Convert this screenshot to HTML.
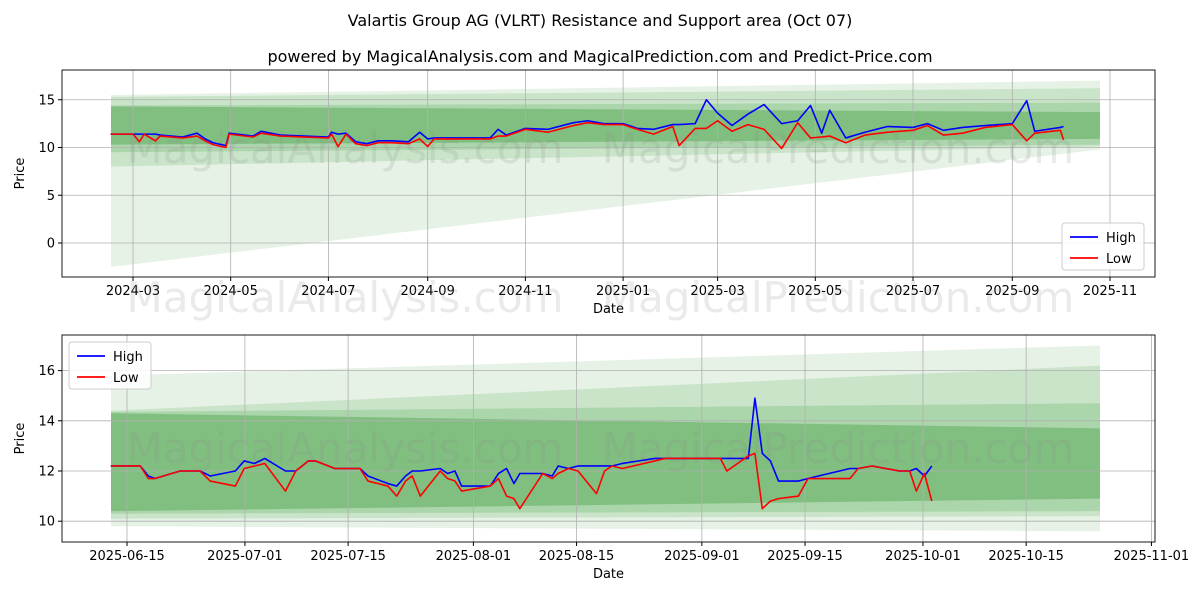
<!DOCTYPE html>
<html><head><meta charset="utf-8"><style>
body{margin:0;background:#fff;font-family:"Liberation Sans","DejaVu Sans",sans-serif}
svg text{font-family:"DejaVu Sans","Liberation Sans",sans-serif}
</style></head><body>
<svg id="c" width="1200" height="600" viewBox="0 0 1200 600"></svg>
<script>
// ---- top chart data ----
const topDates=["2024-02-16","2024-03-01","2024-03-05","2024-03-08","2024-03-15","2024-03-18","2024-04-01","2024-04-10","2024-04-15","2024-04-20","2024-04-28","2024-04-30","2024-05-15","2024-05-20","2024-06-01","2024-07-01","2024-07-03","2024-07-07","2024-07-12","2024-07-18","2024-07-25","2024-08-01","2024-08-10","2024-08-20","2024-08-27","2024-09-01","2024-09-05","2024-10-01","2024-10-10","2024-10-15","2024-10-20","2024-11-01","2024-11-15","2024-12-01","2024-12-10","2024-12-20","2025-01-01","2025-01-10","2025-01-20","2025-02-01","2025-02-05","2025-02-15","2025-02-22","2025-03-01","2025-03-10","2025-03-20","2025-03-30","2025-04-10","2025-04-20","2025-04-28","2025-05-05","2025-05-10","2025-05-20","2025-06-01","2025-06-15","2025-07-01","2025-07-10","2025-07-20","2025-08-01","2025-08-15","2025-09-01","2025-09-10","2025-09-15","2025-10-01","2025-10-03"];
const topHigh=[11.4,11.4,11.4,11.4,11.4,11.3,11.1,11.5,10.9,10.5,10.2,11.5,11.2,11.7,11.3,11.1,11.6,11.4,11.5,10.6,10.4,10.7,10.7,10.6,11.6,10.9,11.0,11.0,11.0,11.9,11.3,12.0,11.9,12.6,12.8,12.5,12.5,12.0,11.9,12.4,12.4,12.5,15.0,13.6,12.3,13.5,14.5,12.5,12.8,14.4,11.5,13.9,11.0,11.6,12.2,12.1,12.5,11.8,12.1,12.3,12.5,14.9,11.7,12.1,12.2];
const topLow=[11.4,11.4,10.6,11.4,10.7,11.2,11.0,11.2,10.7,10.3,10.0,11.4,11.1,11.5,11.2,11.0,11.4,10.1,11.4,10.4,10.2,10.5,10.5,10.4,10.9,10.1,10.9,10.9,10.9,11.2,11.2,11.9,11.6,12.3,12.6,12.4,12.4,11.9,11.4,12.2,10.2,12.0,12.0,12.8,11.7,12.4,11.9,9.9,12.6,11.0,11.1,11.2,10.5,11.3,11.6,11.8,12.3,11.3,11.5,12.1,12.4,10.7,11.5,11.8,10.8];
// ---- bottom chart data (days after 2025-06-15) ----
const botDays=[-2.2,1.8,2.9,3.8,7.2,9.9,11.3,14.7,15.9,17.3,18.7,21.5,22.9,24.6,25.6,28.2,31.6,32.7,35.4,36.6,37.8,38.7,39.8,42.5,43.5,44.5,45.4,49.3,50.4,51.5,52.5,53.3,56.4,57.7,58.5,59.9,61.2,63.7,64.8,65.8,67.2,71.6,73.0,80.5,81.4,84.3,85.2,86.2,87.3,88.4,91.1,92.4,98.1,99.2,101.1,104.8,106.2,107.1,108.2,109.2];
const botHigh=[12.2,12.2,11.8,11.7,12.0,12.0,11.8,12.0,12.4,12.3,12.5,12.0,12.0,12.4,12.4,12.1,12.1,11.8,11.5,11.4,11.8,12.0,12.0,12.1,11.9,12.0,11.4,11.4,11.9,12.1,11.5,11.9,11.9,11.8,12.2,12.1,12.2,12.2,12.2,12.2,12.3,12.5,12.5,12.5,12.5,12.5,14.9,12.7,12.4,11.6,11.6,11.7,12.1,12.1,12.2,12.0,12.0,12.1,11.8,12.2];
const botLow=[12.2,12.2,11.7,11.7,12.0,12.0,11.6,11.4,12.1,12.2,12.3,11.2,12.0,12.4,12.4,12.1,12.1,11.6,11.4,11.0,11.6,11.8,11.0,12.0,11.7,11.6,11.2,11.4,11.7,11.0,10.9,10.5,11.9,11.7,11.9,12.1,12.0,11.1,12.0,12.2,12.1,12.4,12.5,12.5,12.0,12.6,12.7,10.5,10.8,10.9,11.0,11.7,11.7,12.1,12.2,12.0,12.0,11.2,11.9,10.8];
// band layers: [topStart, topEnd, botStart, botEnd, opacity]
const topBands=[[15.5,17.0,-2.5,9.8,0.10],[15.3,16.2,8.0,10.1,0.12],[14.4,14.7,9.5,10.3,0.15],[14.3,13.7,10.3,10.9,0.25]];
const botBands=[[15.8,17.0,9.8,9.6,0.10],[14.4,16.2,10.1,10.2,0.12],[14.35,14.7,10.3,10.4,0.15],[14.3,13.7,10.4,10.9,0.25]];
const topYTicks=[0,5,10,15];
const botYTicks=[10,12,14,16];
const topXTicks=["2024-03","2024-05","2024-07","2024-09","2024-11","2025-01","2025-03","2025-05","2025-07","2025-09","2025-11"];
const botXTicks=["2025-06-15","2025-07-01","2025-07-15","2025-08-01","2025-08-15","2025-09-01","2025-09-15","2025-10-01","2025-10-15","2025-11-01"];

const NS="http://www.w3.org/2000/svg",svg=document.getElementById('c');
function el(t,a,p){const e=document.createElementNS(NS,t);for(const k in a)e.setAttribute(k,a[k]);(p||svg).appendChild(e);return e;}
function txt(s,a,p){const e=el('text',a,p);e.textContent=s;return e;}
const day=s=>Date.parse(s)/864e5;

function panel(o){
  const g=el('g',{});
  
  
  const X=o.X,Y=o.Y;
  o.bands.forEach((b,i)=>{
    const p=el('polygon',{points:`${o.bx0},${Y(b[0])} ${o.bx1},${Y(b[1])} ${o.bx1},${Y(b[3])} ${o.bx0},${Y(b[2])}`,fill:'green','fill-opacity':b[4]},g);
    
    
  });
  o.yt.forEach(v=>{el('line',{x1:o.l,x2:o.r,y1:Y(v),y2:Y(v),stroke:'#b0b0b0','stroke-width':0.8},g);
    el('line',{x1:o.l-4,x2:o.l,y1:Y(v),y2:Y(v),stroke:'#000'},g);
    const t=txt(String(v),{x:o.l-7,y:Y(v)+4.5,'text-anchor':'end','font-size':13},g);
    });
  o.xt.forEach(s=>{const x=o.XT(s);el('line',{x1:x,x2:x,y1:o.t,y2:o.b,stroke:'#b0b0b0','stroke-width':0.8},g);
    el('line',{x1:x,x2:x,y1:o.b,y2:o.b+4,stroke:'#000'},g);
    const t=txt(s,{x:x,y:o.b+18,'text-anchor':'middle','font-size':13},g);
    });
  o.wm.forEach(w=>{const t=txt(w[0],{x:w[1],y:w[2],'text-anchor':'middle','font-size':42,fill:'#888','fill-opacity':0.18},g);
    });
  [[o.hi,'#0000ff','high-line'],[o.lo,'#ff0000','low-line']].forEach(s=>{
    const pts=o.xs.map((d,i)=>X(d)+','+Y(s[0][i])).join(' ');
    const pl=el('polyline',{points:pts,fill:'none',stroke:s[1],'stroke-width':1.6,'stroke-linejoin':'round'},g);
    
  });
  el('rect',{x:o.l,y:o.t,width:o.r-o.l,height:o.b-o.t,fill:'none',stroke:'#000','stroke-width':0.9},g);
  const xl=txt('Date',{x:(o.l+o.r)/2,y:o.b+36,'text-anchor':'middle','font-size':13},g);
  
  const yl=txt('Price',{x:0,y:0,'text-anchor':'middle','font-size':13,transform:`translate(${o.l-38},${(o.t+o.b)/2}) rotate(-90)`},g);
  
  const lg=el('g',{},g);
  
  el('rect',{x:o.lx,y:o.ly,width:82,height:47,rx:3,fill:'#fff','fill-opacity':0.85,stroke:'#ccc'},lg);
  [['High','#0000ff'],['Low','#ff0000']].forEach((e,i)=>{
    const y=o.ly+14+i*21;
    const le=el('g',{},lg);
    el('line',{x1:o.lx+8,x2:o.lx+36,y1:y,y2:y,stroke:e[1],'stroke-width':1.8},le);
    txt(e[0],{x:o.lx+44,y:y+5,'font-size':13},le);
  });
}
const tX0=day("2024-03-01"),tX1=day("2025-11-01");
const tXf=d=>133+(d-tX0)*(1110-133)/(tX1-tX0);
const tY=v=>243-v*9.55;
panel({name:'top-panel',l:62,r:1155,t:70,b:277,X:s=>tXf(day(s)),Y:tY,XT:s=>tXf(day(s+"-01")),
  bx0:111,bx1:1100,bands:topBands,yt:topYTicks,xt:topXTicks,xs:topDates,hi:topHigh,lo:topLow,
  wm:[["MagicalAnalysis.com",345,163],["MagicalPrediction.com",838,163],["MagicalAnalysis.com",345,312],["MagicalPrediction.com",838,312]],lx:1062,ly:223});
const bD0=day("2025-06-15");
const bXf=d=>127+d*7.37;
const bY=v=>471-(v-12)*25.1;
panel({name:'bottom-panel',l:62,r:1155,t:335,b:542,X:bXf,Y:bY,XT:s=>bXf(day(s)-bD0),
  bx0:111,bx1:1100,bands:botBands,yt:botYTicks,xt:botXTicks,xs:botDays,hi:botHigh,lo:botLow,
  wm:[["MagicalAnalysis.com",345,463],["MagicalPrediction.com",838,463]],lx:69,ly:342});
const t1=txt('Valartis Group AG (VLRT) Resistance and Support area (Oct 07)',{x:600,y:26,'text-anchor':'middle','font-size':16});

const t2=txt('powered by MagicalAnalysis.com and MagicalPrediction.com and Predict-Price.com',{x:600,y:62,'text-anchor':'middle','font-size':16});

</script>
</body></html>
